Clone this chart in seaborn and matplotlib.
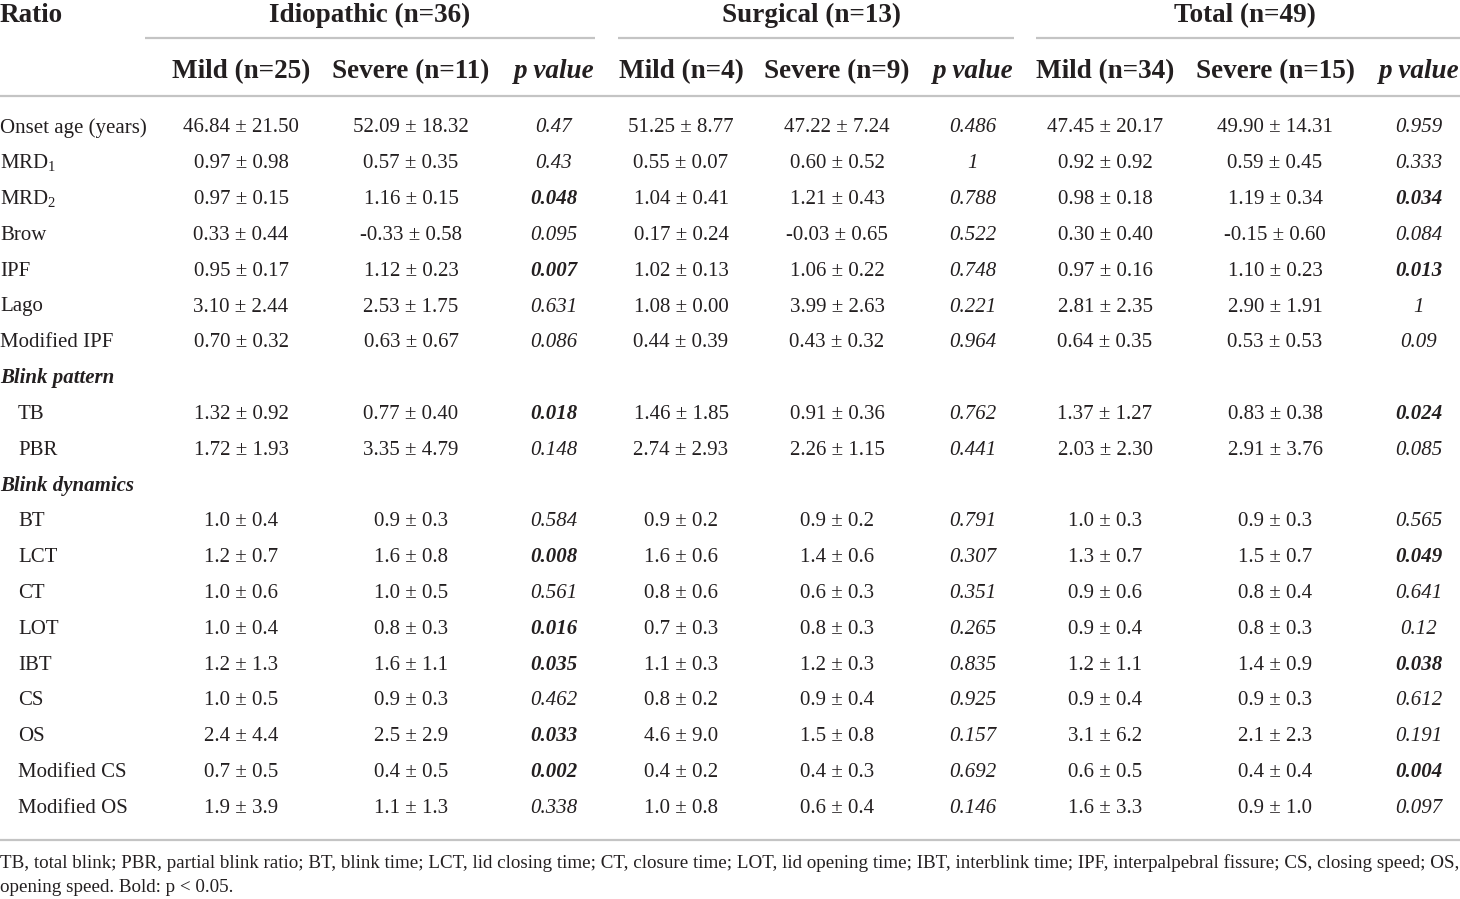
import matplotlib
matplotlib.use("Agg")
import matplotlib.pyplot as plt
import seaborn as sns

sns.set_theme(style="white")
plt.rcParams["font.family"] = ["Liberation Serif", "DejaVu Serif"]
plt.rcParams["mathtext.fontset"] = "custom"
plt.rcParams["mathtext.rm"] = "Liberation Serif"
plt.rcParams["mathtext.it"] = "Liberation Serif:italic"

# table content
groups = ["Idiopathic (n=36)", "Surgical (n=13)", "Total (n=49)"]
subheads = ["Mild (n=25)", "Severe (n=11)", "p value",
            "Mild (n=4)", "Severe (n=9)", "p value",
            "Mild (n=34)", "Severe (n=15)", "p value"]

row_labels = ["Onset age (years)", "MRD$_1$", "MRD$_2$", "Brow", "IPF", "Lago", "Modified IPF",
              "Blink pattern", "TB", "PBR",
              "Blink dynamics", "BT", "LCT", "CT", "LOT", "IBT", "CS", "OS", "Modified CS", "Modified OS"]
section_rows = ["Blink pattern", "Blink dynamics"]
indented_rows = ["TB", "PBR", "BT", "LCT", "CT", "LOT", "IBT", "CS", "OS", "Modified CS", "Modified OS"]

idio_mild = ["46.84 ± 21.50", "0.97 ± 0.98", "0.97 ± 0.15", "0.33 ± 0.44", "0.95 ± 0.17", "3.10 ± 2.44", "0.70 ± 0.32",
             "", "1.32 ± 0.92", "1.72 ± 1.93",
             "", "1.0 ± 0.4", "1.2 ± 0.7", "1.0 ± 0.6", "1.0 ± 0.4", "1.2 ± 1.3", "1.0 ± 0.5", "2.4 ± 4.4", "0.7 ± 0.5", "1.9 ± 3.9"]
idio_severe = ["52.09 ± 18.32", "0.57 ± 0.35", "1.16 ± 0.15", "-0.33 ± 0.58", "1.12 ± 0.23", "2.53 ± 1.75", "0.63 ± 0.67",
               "", "0.77 ± 0.40", "3.35 ± 4.79",
               "", "0.9 ± 0.3", "1.6 ± 0.8", "1.0 ± 0.5", "0.8 ± 0.3", "1.6 ± 1.1", "0.9 ± 0.3", "2.5 ± 2.9", "0.4 ± 0.5", "1.1 ± 1.3"]
idio_p = ["0.47", "0.43", "0.048", "0.095", "0.007", "0.631", "0.086",
          "", "0.018", "0.148",
          "", "0.584", "0.008", "0.561", "0.016", "0.035", "0.462", "0.033", "0.002", "0.338"]

surg_mild = ["51.25 ± 8.77", "0.55 ± 0.07", "1.04 ± 0.41", "0.17 ± 0.24", "1.02 ± 0.13", "1.08 ± 0.00", "0.44 ± 0.39",
             "", "1.46 ± 1.85", "2.74 ± 2.93",
             "", "0.9 ± 0.2", "1.6 ± 0.6", "0.8 ± 0.6", "0.7 ± 0.3", "1.1 ± 0.3", "0.8 ± 0.2", "4.6 ± 9.0", "0.4 ± 0.2", "1.0 ± 0.8"]
surg_severe = ["47.22 ± 7.24", "0.60 ± 0.52", "1.21 ± 0.43", "-0.03 ± 0.65", "1.06 ± 0.22", "3.99 ± 2.63", "0.43 ± 0.32",
               "", "0.91 ± 0.36", "2.26 ± 1.15",
               "", "0.9 ± 0.2", "1.4 ± 0.6", "0.6 ± 0.3", "0.8 ± 0.3", "1.2 ± 0.3", "0.9 ± 0.4", "1.5 ± 0.8", "0.4 ± 0.3", "0.6 ± 0.4"]
surg_p = ["0.486", "1", "0.788", "0.522", "0.748", "0.221", "0.964",
          "", "0.762", "0.441",
          "", "0.791", "0.307", "0.351", "0.265", "0.835", "0.925", "0.157", "0.692", "0.146"]

tot_mild = ["47.45 ± 20.17", "0.92 ± 0.92", "0.98 ± 0.18", "0.30 ± 0.40", "0.97 ± 0.16", "2.81 ± 2.35", "0.64 ± 0.35",
            "", "1.37 ± 1.27", "2.03 ± 2.30",
            "", "1.0 ± 0.3", "1.3 ± 0.7", "0.9 ± 0.6", "0.9 ± 0.4", "1.2 ± 1.1", "0.9 ± 0.4", "3.1 ± 6.2", "0.6 ± 0.5", "1.6 ± 3.3"]
tot_severe = ["49.90 ± 14.31", "0.59 ± 0.45", "1.19 ± 0.34", "-0.15 ± 0.60", "1.10 ± 0.23", "2.90 ± 1.91", "0.53 ± 0.53",
              "", "0.83 ± 0.38", "2.91 ± 3.76",
              "", "0.9 ± 0.3", "1.5 ± 0.7", "0.8 ± 0.4", "0.8 ± 0.3", "1.4 ± 0.9", "0.9 ± 0.3", "2.1 ± 2.3", "0.4 ± 0.4", "0.9 ± 1.0"]
tot_p = ["0.959", "0.333", "0.034", "0.084", "0.013", "1", "0.09",
         "", "0.024", "0.085",
         "", "0.565", "0.049", "0.641", "0.12", "0.038", "0.612", "0.191", "0.004", "0.097"]

footnote = ["TB, total blink; PBR, partial blink ratio; BT, blink time; LCT, lid closing time; CT, closure time; "
            "LOT, lid opening time; IBT, interblink time; IPF, interpalpebral fissure; CS, closing speed; OS,",
            "opening speed. Bold: p < 0.05."]

columns = [idio_mild, idio_severe, idio_p, surg_mild, surg_severe, surg_p, tot_mild, tot_severe, tot_p]
p_columns = [2, 5, 8]

# layout (pixel coordinates, text placed on baselines)
W, H = 1460, 899
col_x = [241, 411, 554, 681, 837, 973, 1105, 1275, 1419]
group_x = [370, 812, 1245]
group_line = [(145, 595), (618, 1014), (1036, 1460)]
row_base0, row_dy = 132.5, 35.8
ink = "#231f20"
rule = "#c4c4c4"

fig = plt.figure(figsize=(W / 100, H / 100), dpi=100, facecolor="white")
ax = fig.add_axes([0, 0, 1, 1])
ax.set_xlim(0, W)
ax.set_ylim(H, 0)
ax.axis("off")

body = 15
head = 19.5

ax.text(0, 22, "Ratio", fontsize=head, fontweight="bold", color=ink, va="baseline", ha="left")
for g, gx, (x0, x1) in zip(groups, group_x, group_line):
    ax.text(gx, 22, g, fontsize=head, fontweight="bold", color=ink, va="baseline", ha="center")
    ax.plot([x0, x1], [38, 38], color=rule, lw=1.6, solid_capstyle="butt")

for i, (s, cx) in enumerate(zip(subheads, col_x)):
    style = "italic" if i in p_columns else "normal"
    ax.text(cx, 78, s, fontsize=head, fontweight="bold", fontstyle=style, color=ink, va="baseline", ha="center")

ax.plot([0, W], [96, 96], color=rule, lw=1.6, solid_capstyle="butt")

for r, lab in enumerate(row_labels):
    y = row_base0 + r * row_dy
    if lab in section_rows:
        ax.text(0, y, lab, fontsize=body, fontweight="bold", fontstyle="italic", color=ink, va="baseline", ha="left")
        continue
    x = 18 if lab in indented_rows else 0
    ax.text(x, y, lab, fontsize=body, color=ink, va="baseline", ha="left")
    for c, (col, cx) in enumerate(zip(columns, col_x)):
        val = col[r]
        if c in p_columns:
            weight = "bold" if float(val) < 0.05 else "normal"
            ax.text(cx, y, val, fontsize=body, fontstyle="italic", fontweight=weight, color=ink, va="baseline", ha="center")
        else:
            ax.text(cx, y, val, fontsize=body, color=ink, va="baseline", ha="center")

ax.plot([0, W], [840, 840], color=rule, lw=1.6, solid_capstyle="butt")
for k, line in enumerate(footnote):
    ax.text(0, 868 + k * 24, line, fontsize=13.7, color=ink, va="baseline", ha="left")

fig.savefig("out.png", dpi=100, facecolor="white")
